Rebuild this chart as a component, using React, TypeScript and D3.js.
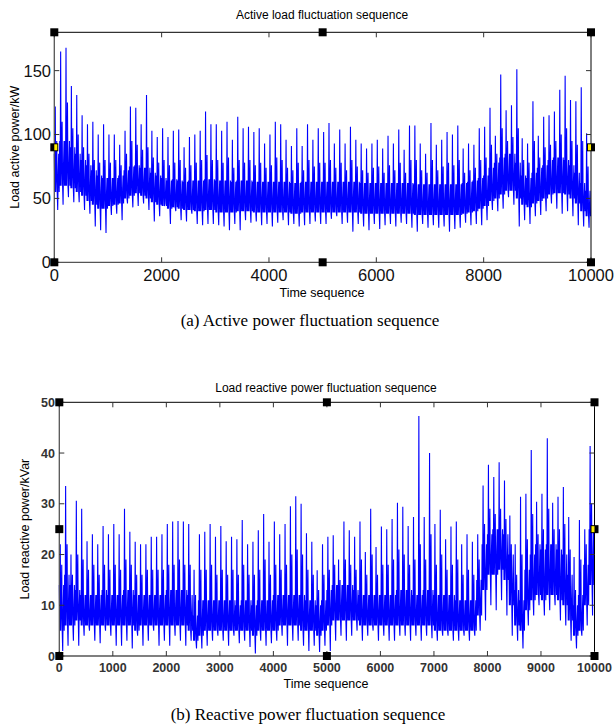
import { useEffect, useRef } from 'react'
import * as d3 from 'd3'

// per-cycle readings (one cycle ~ 100 samples)
const activePeaks = [
  122, 165, 168, 138, 131, 115, 108, 110, 100, 108,
  100, 100, 92, 103, 122, 121, 108, 131, 103, 98,
  105, 98, 103, 104, 90, 98, 100, 103, 118, 108,
  108, 103, 110, 96, 114, 105, 106, 102, 105, 93,
  100, 110, 108, 96, 91, 105, 91, 108, 96, 105,
  102, 109, 93, 104, 93, 106, 96, 93, 89, 93,
  96, 89, 99, 93, 104, 88, 107, 107, 93, 85,
  109, 92, 96, 102, 100, 107, 89, 93, 92, 105,
  106, 121, 99, 147, 119, 123, 151, 97, 93, 126,
  99, 114, 115, 118, 135, 146, 127, 126, 137, 101,
]
const activeSecond = [
  95, 110, 125, 105, 100, 90, 85, 80, 78, 80,
  78, 80, 76, 85, 95, 92, 88, 90, 82, 78,
  80, 76, 78, 80, 74, 76, 78, 80, 84, 80,
  80, 78, 82, 74, 80, 78, 80, 76, 78, 74,
  76, 82, 80, 74, 72, 78, 72, 80, 75, 78,
  78, 80, 74, 78, 72, 80, 75, 72, 70, 74,
  75, 70, 76, 72, 78, 70, 80, 80, 72, 70,
  80, 72, 75, 78, 76, 80, 70, 72, 74, 80,
  82, 92, 85, 105, 95, 98, 105, 80, 78, 95,
  82, 90, 92, 95, 100, 105, 95, 92, 95, 75,
]
const activeTroughs = [
  41, 45, 51, 47, 47, 41, 38, 28, 25, 23,
  37, 38, 33, 46, 43, 44, 46, 41, 32, 36,
  46, 30, 40, 33, 32, 38, 30, 29, 30, 30,
  29, 28, 25, 30, 25, 33, 31, 32, 29, 30,
  28, 31, 33, 29, 30, 28, 29, 30, 32, 30,
  30, 34, 36, 30, 31, 24, 30, 28, 25, 30,
  26, 29, 30, 28, 31, 30, 27, 24, 30, 27,
  29, 27, 28, 24, 26, 27, 31, 29, 30, 29,
  33, 41, 40, 42, 51, 45, 28, 33, 30, 36,
  37, 40, 46, 42, 38, 40, 36, 29, 28, 27,
]
const activeBandLo = [
  55, 60, 60, 58, 55, 52, 48, 45, 42, 42,
  44, 45, 46, 50, 52, 54, 52, 50, 47, 45,
  44, 42, 43, 42, 41, 41, 40, 40, 41, 41,
  39, 39, 39, 39, 40, 40, 40, 39, 39, 39,
  39, 39, 39, 39, 38, 38, 39, 39, 39, 39,
  39, 39, 39, 39, 39, 39, 39, 38, 38, 38,
  38, 38, 38, 38, 38, 38, 38, 37, 37, 37,
  37, 37, 37, 37, 37, 37, 38, 39, 40, 42,
  44, 48, 50, 53, 56, 56, 50, 45, 43, 46,
  48, 50, 53, 54, 54, 53, 50, 46, 40, 36,
]
const activeBandHi = [
  85, 95, 95, 90, 85, 80, 76, 72, 68, 66,
  66, 66, 68, 72, 75, 76, 74, 74, 70, 68,
  66, 64, 65, 64, 63, 64, 64, 64, 65, 65,
  64, 64, 64, 63, 64, 64, 64, 63, 63, 63,
  63, 63, 63, 63, 62, 62, 63, 63, 63, 63,
  63, 63, 63, 63, 63, 63, 63, 62, 62, 62,
  62, 62, 62, 62, 62, 62, 62, 61, 61, 61,
  61, 61, 61, 61, 61, 61, 62, 63, 64, 66,
  68, 74, 78, 82, 85, 85, 78, 68, 66, 70,
  74, 76, 80, 82, 82, 80, 76, 70, 62, 56,
]

const reactivePeaks = [
  22, 33.5, 20, 30.6, 29, 22.6, 24, 22, 25.6, 24,
  26, 24, 29, 24.5, 22.5, 22, 22, 23.5, 23.5, 24,
  26, 26.5, 26.6, 26.5, 26, 17, 24, 24.5, 26, 23.5,
  25.6, 22.6, 23.5, 23, 26.8, 22, 22.5, 24.8, 28, 22.5,
  26.5, 24, 26, 29.5, 31.5, 30, 24.2, 22.5, 16.9, 22,
  23.5, 23.8, 19, 26.5, 24.8, 23.5, 26.5, 20.5, 29, 21.5,
  25.5, 25, 27, 30.2, 29.4, 25.6, 27.4, 47.3, 27.4, 40,
  26, 28.8, 23, 25.5, 26.5, 22, 24, 22.5, 24, 33.6,
  37.7, 35.3, 38.2, 34.6, 27.7, 22, 31.4, 32, 40.6, 30.4,
  32, 42.9, 30.2, 31.4, 33.3, 27.4, 19.5, 26.8, 25, 41.4,
]
const reactiveSecond = [
  18, 22, 16, 20, 19, 17, 18, 16, 18, 17,
  18, 17, 19, 18, 16, 16, 17, 17, 17, 17,
  18, 18, 19, 18, 18, 12, 17, 17, 18, 16,
  17, 16, 17, 16, 18, 16, 16, 17, 19, 16,
  18, 17, 18, 20, 21, 20, 17, 16, 13, 16,
  17, 18, 15, 19, 18, 17, 19, 16, 20, 16,
  18, 18, 19, 21, 20, 18, 19, 22, 19, 24,
  18, 20, 17, 18, 19, 16, 17, 16, 19, 26,
  29, 28, 29, 27, 22, 16, 20, 23, 28, 24,
  25, 29, 25, 25, 26, 21, 13, 19, 22, 30,
]
const reactiveTroughs = [
  1, 2, 3, 2, 4, 5, 3, 2.5, 5, 4,
  2, 2, 3, 1.5, 4, 2, 3, 5, 2, 3,
  2, 4, 3, 2, 3, 1.5, 1.5, 2, 3, 4,
  3, 2, 4, 2.5, 3, 1.8, 0.5, 3, 2, 2.5,
  3, 4, 2, 3, 3, 2, 1, 2, 0.8, 2,
  1, 3, 4, 3, 4, 5, 3, 4, 5, 3,
  4, 3, 3, 4, 4, 3, 4, 3, 4, 3.5,
  3, 4, 4, 3, 3, 4, 3, 4, 5, 7,
  10, 9, 11, 8, 4, 3, 1.5, 6, 8, 10,
  8, 9, 10, 7, 6, 3, 1.5, 4, 6, 8,
]
const reactiveBandLo = [
  5, 6, 6, 7, 6, 6, 6, 6, 6, 6,
  6, 6, 6, 6, 5, 6, 6, 6, 6, 6,
  6, 6, 6, 6, 5, 3, 4, 5, 5, 5,
  5, 5, 5, 5, 5, 5, 4, 5, 5, 5,
  5, 6, 6, 6, 6, 5, 5, 5, 4, 5,
  6, 7, 7, 7, 7, 7, 6, 6, 6, 6,
  6, 6, 6, 6, 6, 6, 6, 6, 6, 6,
  5, 5, 5, 5, 5, 5, 5, 5, 8, 13,
  16, 16, 17, 15, 10, 6, 5, 9, 11, 12,
  11, 12, 12, 11, 10, 7, 4, 5, 10, 14,
]
const reactiveBandHi = [
  14, 16, 14, 13, 12, 12, 12, 12, 13, 12,
  12, 12, 13, 13, 12, 12, 12, 12, 12, 12,
  13, 13, 13, 13, 12, 8, 11, 11, 11, 11,
  11, 11, 11, 10, 11, 11, 10, 11, 11, 11,
  12, 12, 12, 12, 12, 12, 11, 11, 10, 11,
  13, 14, 14, 14, 14, 13, 12, 12, 12, 12,
  12, 12, 12, 13, 13, 13, 12, 12, 13, 13,
  12, 12, 12, 12, 11, 11, 11, 11, 15, 22,
  24, 25, 25, 24, 20, 13, 11, 17, 20, 22,
  21, 22, 22, 21, 20, 16, 10, 12, 18, 25,
]

const activeXTicks = [0, 2000, 4000, 6000, 8000, 10000]
const activeYTicks = [0, 50, 100, 150]
const reactiveXTicks = [0, 1000, 2000, 3000, 4000, 5000, 6000, 7000, 8000, 9000, 10000]
const reactiveYTicks = [0, 10, 20, 30, 40, 50]

const CYCLE = 100
const SANS = "Arial, 'Liberation Sans', sans-serif"
const SERIF = "'Times New Roman', 'Liberation Serif', serif"

function buildSeries(peaks, second, troughs, lo, hi) {
  const out = []
  peaks.forEach((p, i) => {
    const mid = (lo[i] + hi[i]) / 2
    const vals = [hi[i], lo[i], p, lo[i], mid, second[i], lo[i], troughs[i], mid, hi[i], lo[i]]
    vals.forEach((v, k) => out.push({ t: i * CYCLE + (k * CYCLE) / vals.length, v }))
  })
  return out
}

function drawPanel(svg, cfg) {
  const { left, right, top, bottom } = cfg
  const x = d3.scaleLinear().domain([0, 10000]).range([left, right])
  const y = d3.scaleLinear().domain(cfg.yDomain).range([bottom, top])
  const g = svg.append('g')

  const line = d3
    .line()
    .x((d) => x(d.t))
    .y((d) => y(d.v))
  g.append('path')
    .attr('d', line(cfg.series))
    .attr('fill', 'none')
    .attr('stroke', '#0000ff')
    .attr('stroke-width', 1.1)

  // box
  g.append('line').attr('x1', left).attr('x2', right).attr('y1', top).attr('y2', top).attr('stroke', '#000')
  g.append('line').attr('x1', right).attr('x2', right).attr('y1', top).attr('y2', bottom).attr('stroke', '#000')
  g.append('line').attr('x1', left).attr('x2', right).attr('y1', bottom).attr('y2', bottom).attr('stroke', '#555').attr('stroke-width', 1.3)
  g.append('line').attr('x1', left).attr('x2', left).attr('y1', top).attr('y2', bottom).attr('stroke', '#555').attr('stroke-width', 1.3)

  const tl = 5
  cfg.xTicks.forEach((t) => {
    g.append('line').attr('x1', x(t)).attr('x2', x(t)).attr('y1', bottom).attr('y2', bottom - tl).attr('stroke', '#333')
    g.append('line').attr('x1', x(t)).attr('x2', x(t)).attr('y1', top).attr('y2', top + tl).attr('stroke', '#333')
    g.append('text')
      .attr('x', x(t))
      .attr('y', cfg.xTickY)
      .attr('text-anchor', 'middle')
      .style('font', cfg.tickFont)
      .attr('fill', cfg.tickColor)
      .text(t)
  })
  cfg.yTicks.forEach((t) => {
    g.append('line').attr('x1', left).attr('x2', left + tl).attr('y1', y(t)).attr('y2', y(t)).attr('stroke', '#333')
    g.append('line').attr('x1', right).attr('x2', right - tl).attr('y1', y(t)).attr('y2', y(t)).attr('stroke', '#333')
    g.append('text')
      .attr('x', cfg.yTickX)
      .attr('y', y(t))
      .attr('dy', '0.36em')
      .attr('text-anchor', 'end')
      .style('font', cfg.tickFont)
      .attr('fill', cfg.tickColor)
      .text(t)
  })

  g.append('text')
    .attr('x', cfg.titleX)
    .attr('y', cfg.titleY)
    .attr('text-anchor', 'middle')
    .style('font', `12px ${SANS}`)
    .text(cfg.title)
  g.append('text')
    .attr('x', cfg.titleX)
    .attr('y', cfg.xLabelY)
    .attr('text-anchor', 'middle')
    .style('font', `12.5px ${SANS}`)
    .text('Time sequence')
  g.append('text')
    .attr('transform', `translate(${cfg.yLabelX},${(top + bottom) / 2}) rotate(-90)`)
    .attr('text-anchor', 'middle')
    .style('font', `12.5px ${SANS}`)
    .text(cfg.yLabel)
  g.append('text')
    .attr('x', cfg.captionX)
    .attr('y', cfg.captionY)
    .attr('text-anchor', 'middle')
    .style('font', `17px ${SERIF}`)
    .text(cfg.caption)

  // selection handles
  const midX = (left + right) / 2
  const midY = (top + bottom) / 2
  const pts = [
    [left, top], [midX, top], [right, top],
    [left, bottom], [midX, bottom], [right, bottom],
    [left, midY], [right, midY],
  ]
  pts.forEach(([px, py]) => {
    g.append('rect').attr('x', px - 4).attr('y', py - 4).attr('width', 8).attr('height', 8).attr('fill', '#000')
  })
  if (cfg.yellowLeft) {
    g.append('rect').attr('x', left).attr('y', midY - 3).attr('width', 3).attr('height', 6).attr('fill', '#ffee00')
  }
  g.append('rect').attr('x', right - 3).attr('y', midY - 3).attr('width', 3).attr('height', 6).attr('fill', '#ffee00')
}

function FluctuationFigure() {
  const ref = useRef(null)

  useEffect(() => {
    const svg = d3.select(ref.current)
    svg.selectAll('*').remove()

    drawPanel(svg, {
      left: 54.3, right: 591, top: 32.3, bottom: 262.3,
      yDomain: [0, 180],
      series: buildSeries(activePeaks, activeSecond, activeTroughs, activeBandLo, activeBandHi),
      xTicks: activeXTicks, yTicks: activeYTicks,
      tickFont: `16.5px ${SANS}`, tickColor: '#111',
      xTickY: 281, yTickX: 51,
      title: 'Active load fluctuation sequence', titleX: 322, titleY: 19,
      xLabelY: 297, yLabel: 'Load active power/kW', yLabelX: 19,
      caption: '(a) Active power fluctuation sequence', captionX: 310, captionY: 326,
      yellowLeft: true,
    })

    drawPanel(svg, {
      left: 59.3, right: 594.5, top: 402.3, bottom: 656,
      yDomain: [0, 50],
      series: buildSeries(reactivePeaks, reactiveSecond, reactiveTroughs, reactiveBandLo, reactiveBandHi),
      xTicks: reactiveXTicks, yTicks: reactiveYTicks,
      tickFont: `bold 12.5px ${SANS}`, tickColor: '#333',
      xTickY: 672, yTickX: 55,
      title: 'Load reactive power fluctuation sequence', titleX: 326, titleY: 392,
      xLabelY: 688, yLabel: 'Load reactive power/kVar', yLabelX: 29,
      caption: '(b) Reactive power fluctuation sequence', captionX: 308, captionY: 720,
      yellowLeft: false,
    })
  }, [])

  return (
    <svg
      ref={ref}
      width={614}
      height={728}
      style={{ position: 'absolute', left: 0, top: 0, background: '#fff' }}
    />
  )
}

export default function App() {
  return <FluctuationFigure />
}
